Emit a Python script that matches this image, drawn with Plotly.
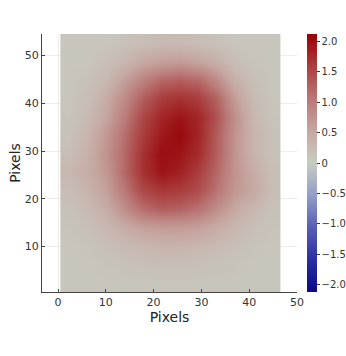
import plotly.graph_objects as go

# Coarse grid of values (rows bottom -> top, 12 columns across)
row_values = [
    [0.10, 0.10, 0.10, 0.10, 0.10, 0.10, 0.10, 0.10, 0.10, 0.10, 0.10, 0.10],  # y ~ 2.4
    [0.10, 0.10, 0.12, 0.15, 0.18, 0.20, 0.20, 0.18, 0.15, 0.12, 0.10, 0.10],  # y ~ 6.3
    [0.10, 0.12, 0.18, 0.25, 0.30, 0.35, 0.35, 0.30, 0.25, 0.18, 0.12, 0.10],  # y ~ 10.1
    [0.12, 0.18, 0.30, 0.45, 0.60, 0.65, 0.65, 0.60, 0.45, 0.30, 0.18, 0.12],  # y ~ 14.0
    [0.15, 0.25, 0.45, 0.80, 1.15, 1.30, 1.25, 1.10, 0.80, 0.50, 0.30, 0.15],  # y ~ 17.9
    [0.20, 0.35, 0.60, 1.05, 1.50, 1.65, 1.60, 1.45, 1.10, 0.70, 0.50, 0.20],  # y ~ 21.7
    [0.30, 0.45, 0.70, 1.20, 1.70, 1.95, 1.85, 1.60, 1.20, 0.75, 0.45, 0.20],  # y ~ 25.6
    [0.20, 0.40, 0.75, 1.20, 1.70, 2.00, 1.95, 1.75, 1.30, 0.75, 0.35, 0.15],  # y ~ 29.4
    [0.15, 0.35, 0.70, 1.15, 1.60, 1.90, 2.05, 1.80, 1.30, 0.75, 0.35, 0.15],  # y ~ 33.3
    [0.12, 0.25, 0.55, 1.00, 1.50, 1.80, 1.95, 1.80, 1.40, 0.80, 0.30, 0.12],  # y ~ 37.1
    [0.10, 0.20, 0.45, 0.85, 1.30, 1.60, 1.70, 1.60, 1.25, 0.65, 0.25, 0.10],  # y ~ 41.0
    [0.10, 0.15, 0.30, 0.60, 0.95, 1.20, 1.30, 1.20, 0.85, 0.40, 0.18, 0.10],  # y ~ 44.9
    [0.10, 0.10, 0.18, 0.30, 0.50, 0.60, 0.65, 0.55, 0.40, 0.20, 0.12, 0.10],  # y ~ 48.7
    [0.10, 0.10, 0.10, 0.15, 0.20, 0.25, 0.25, 0.20, 0.15, 0.10, 0.10, 0.10],  # y ~ 52.6
]
x_ticks = [0, 10, 20, 30, 40, 50]
y_ticks = [10, 20, 30, 40, 50]
cbar_ticks = [-2.0, -1.5, -1.0, -0.5, 0, 0.5, 1.0, 1.5, 2.0]
cbar_labels = ["\u22122.0", "\u22121.5", "\u22121.0", "\u22120.5", "0", "0.5", "1.0", "1.5", "2.0"]

n_cols = len(row_values[0])
n_rows = len(row_values)
dx = 46.0 / n_cols
dy = 54.0 / n_rows

colorscale = [
    [0.0, "rgb(10,10,130)"],
    [0.12, "rgb(40,45,160)"],
    [0.25, "rgb(85,95,180)"],
    [0.38, "rgb(150,160,200)"],
    [0.5, "rgb(200,204,194)"],
    [0.62, "rgb(198,168,162)"],
    [0.75, "rgb(185,120,118)"],
    [0.88, "rgb(170,60,60)"],
    [1.0, "rgb(150,0,5)"],
]

fig = go.Figure(go.Heatmap(
    z=row_values,
    x0=0.5 + dx / 2, dx=dx,
    y0=0.5 + dy / 2, dy=dy,
    zsmooth="best",
    zmin=-2.12, zmax=2.12,
    colorscale=colorscale,
    colorbar=dict(
        x=1.039, xanchor="left", y=0, yanchor="bottom", len=1, lenmode="fraction",
        xpad=0, ypad=0,
        thickness=10, outlinewidth=0,
        tickvals=cbar_ticks, ticktext=cbar_labels,
        ticks="outside", ticklen=3, tickcolor="#333",
        tickfont=dict(family="DejaVu Sans", size=10, color="#333"),
    ),
))

fig.update_layout(
    width=346, height=356,
    margin=dict(l=42, r=49, t=34, b=64, autoexpand=False),
    paper_bgcolor="white", plot_bgcolor="white",
    font=dict(family="DejaVu Sans", color="#333"),
    showlegend=False,
)
fig.update_xaxes(
    range=[-3.35, 50.0], tickvals=x_ticks, automargin=False,
    showgrid=True, gridcolor="rgba(0,0,0,0.07)", zeroline=False,
    showline=True, linecolor="#444", linewidth=1,
    ticks="inside", ticklen=3, tickcolor="#444",
    tickfont=dict(size=11, color="#333"),
    title=dict(text="Pixels", font=dict(size=14, color="#222"), standoff=0),
)
fig.update_yaxes(
    range=[0.5, 54.5], tickvals=y_ticks, automargin=False,
    showgrid=True, gridcolor="rgba(0,0,0,0.07)", zeroline=False,
    showline=True, linecolor="#444", linewidth=1,
    ticks="inside", ticklen=3, tickcolor="#444",
    tickfont=dict(size=11, color="#333"),
    title=dict(text="Pixels", font=dict(size=14, color="#222"), standoff=0),
)

fig.write_html("out.html", config={"displayModeBar": False},
               post_script="document.body.style.margin='0';")
